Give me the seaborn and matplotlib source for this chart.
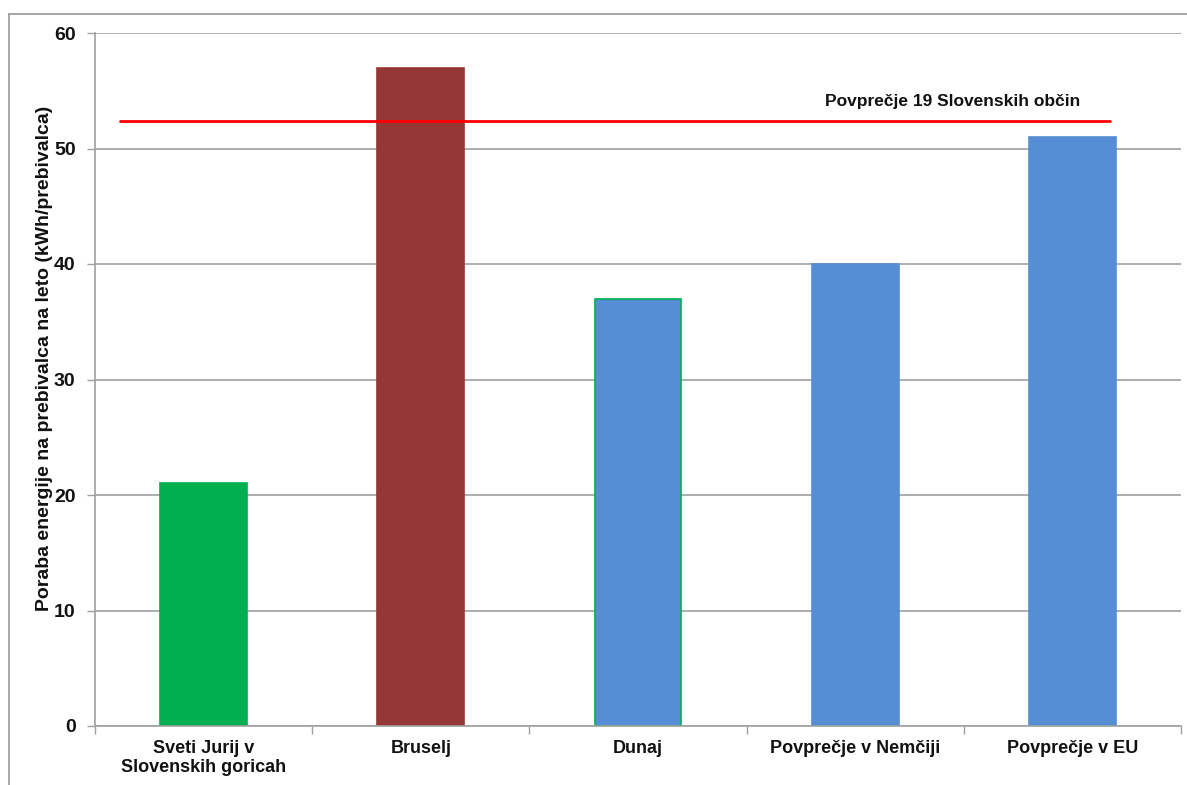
import matplotlib
matplotlib.use("Agg")
import matplotlib.pyplot as plt
import matplotlib.lines as mlines
import seaborn as sns
import pandas as pd

categories = ["Sveti Jurij v\nSlovenskih goricah", "Bruselj", "Dunaj",
              "Povprečje v Nemčiji", "Povprečje v EU"]
values = [21, 57, 37, 40, 51]
bar_colors = ["#00B050", "#953735", "#558ED5", "#558ED5", "#558ED5"]
edge_colors = ["#00B050", "#953735", "#00B050", "#558ED5", "#558ED5"]
avg_value = 52.4
avg_label = "Povprečje 19 Slovenskih občin"
y_label = "Poraba energije na prebivalca na leto (kWh/prebivalca)"
y_ticks = [0, 10, 20, 30, 40, 50, 60]

sns.set_theme(style="white")
plt.rcParams["font.family"] = ["Liberation Sans", "DejaVu Sans"]
plt.rcParams["font.weight"] = "bold"

df = pd.DataFrame({"kraj": categories, "poraba": values})

fig = plt.figure(figsize=(11.87, 7.85), dpi=100)
ax = fig.add_axes([95 / 1187, 1 - 726 / 785, (1181 - 95) / 1187, (726 - 33) / 785])

sns.barplot(data=df, x="kraj", y="poraba", hue="kraj", palette=bar_colors,
            width=0.4, legend=False, ax=ax, saturation=1)
for patch, ec in zip(ax.patches, edge_colors):
    patch.set_edgecolor(ec)
    patch.set_linewidth(1.2)

ax.set_xlim(-0.5, len(categories) - 0.5)
ax.set_ylim(0, 60)
ax.set_yticks(y_ticks)
ax.yaxis.grid(True, color="#A0A0A0", linewidth=1.2)
ax.set_axisbelow(True)

# average line across the plot with its caption
ax.axhline(avg_value, xmin=0.023, xmax=0.935, color="#FF0000", linewidth=2, zorder=5)
ax.text(3.45, avg_value + 1.0, avg_label, ha="center", va="bottom",
        fontsize=12.5, fontweight="bold", color="#111111")

ax.set_xlabel("")
ax.set_ylabel(y_label, fontsize=14, fontweight="bold", color="#111111")
ax.yaxis.set_label_coords(-0.039, 0.53)
ax.tick_params(axis="y", labelsize=14, length=6, width=1, color="#A0A0A0",
               direction="out", left=True, pad=8, labelcolor="#111111")
ax.set_xticks(range(len(categories)))
ax.set_xticklabels(categories, fontsize=13, fontweight="bold", color="#111111")
ax.tick_params(axis="x", which="major", length=0, pad=10)
ax.set_xticks([i - 0.5 for i in range(len(categories) + 1)], minor=True)
ax.tick_params(axis="x", which="minor", length=6, width=1, color="#A0A0A0",
               direction="out", bottom=True)

for side in ["top", "right"]:
    ax.spines[side].set_visible(False)
for side in ["left", "bottom"]:
    ax.spines[side].set_color("#A0A0A0")
    ax.spines[side].set_linewidth(1.2)

# chart-area frame
fig.add_artist(mlines.Line2D([9 / 1187, 1.0], [1 - 14 / 785, 1 - 14 / 785],
                             transform=fig.transFigure, color="#9A9A9A", linewidth=1.2))
fig.add_artist(mlines.Line2D([9 / 1187, 9 / 1187], [0.0, 1 - 14 / 785],
                             transform=fig.transFigure, color="#9A9A9A", linewidth=1.2))

fig.savefig("out.png", dpi=100, facecolor="white")
